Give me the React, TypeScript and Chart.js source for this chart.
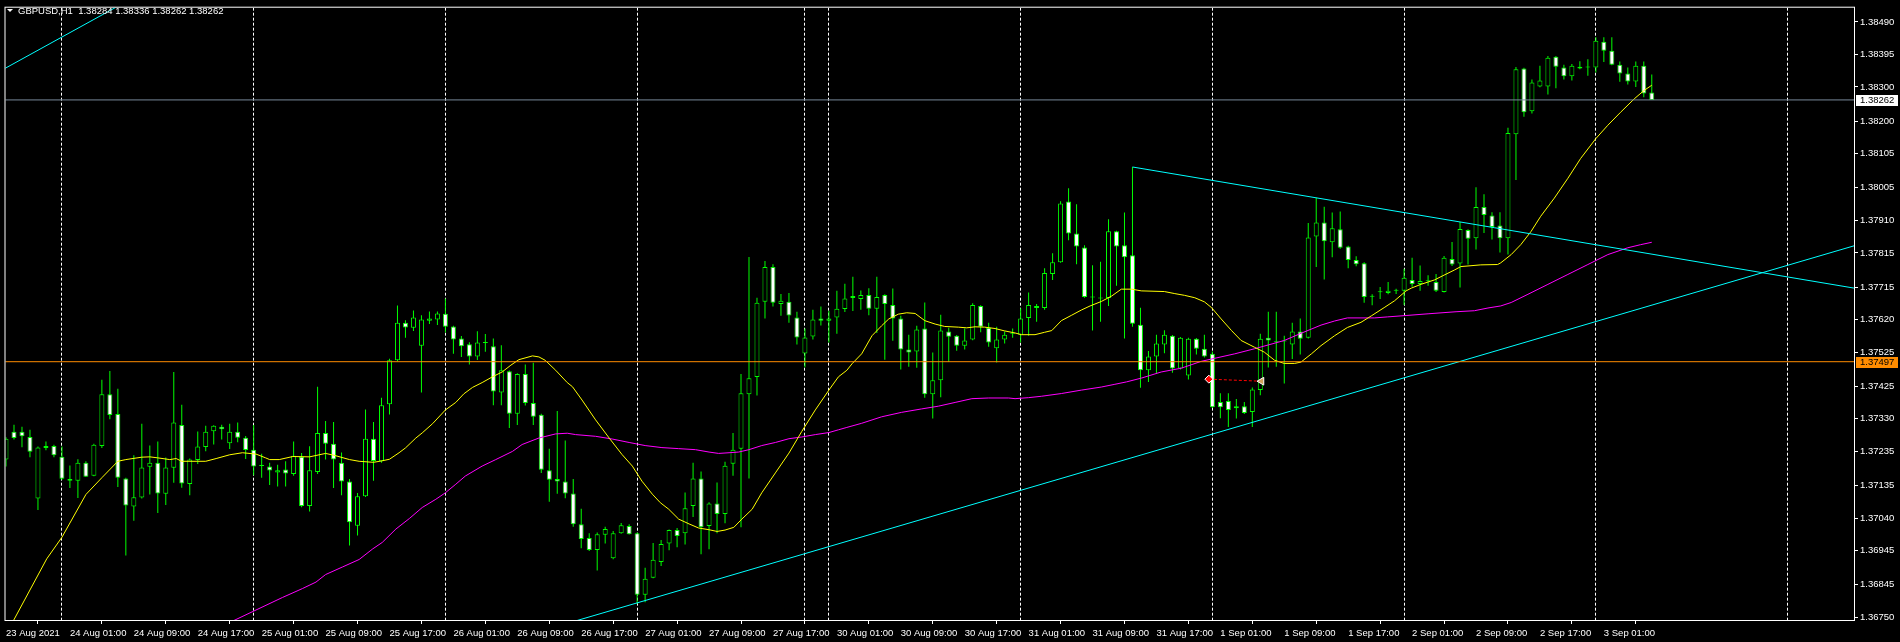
import { useEffect, useRef } from "react";
import { Chart, registerables } from "chart.js";

Chart.register(...registerables);

const symbolTitle = "GBPUSD,H1";

const opens = [
  1.37211,1.37292,1.37292,1.37277,1.37097,1.37251,1.37251,1.37219,1.37154,1.37149,
  1.37202,1.37164,1.37251,1.37402,1.37344,1.37156,1.37074,1.37100,1.37190,1.37202,
  1.37111,1.37187,1.37312,1.37140,1.37210,1.37248,1.37294,1.37307,1.37259,1.37292,
  1.37275,1.37240,1.37193,1.37191,1.37173,1.37182,1.37169,1.37219,1.37075,1.37175,
  1.37289,1.37257,1.37202,1.37147,1.37018,1.37104,1.37272,1.37206,1.37373,1.37501,
  1.37611,1.37596,1.37544,1.37617,1.37620,1.37637,1.37600,1.37565,1.37548,1.37512,
  1.37552,1.37542,1.37407,1.37469,1.37345,1.37461,1.37376,1.37342,1.37180,1.37154,
  1.37147,1.37112,1.37022,1.36982,1.36947,1.36991,1.36923,1.36996,1.37017,1.36996,
  1.36816,1.36866,1.36912,1.36966,1.37005,1.36996,1.37075,1.37156,1.37017,1.37083,
  1.37052,1.37199,1.37243,1.37402,1.37452,1.37672,1.37774,1.37666,1.37672,1.37626,
  1.37521,1.37571,1.37623,1.37617,1.37626,1.37651,1.37683,1.37680,1.37692,1.37652,
  1.37692,1.37663,1.37623,1.37533,1.37527,1.37594,1.37402,1.37443,1.37585,1.37573,
  1.37544,1.37562,1.37660,1.37596,1.37536,1.37562,1.37579,1.37576,1.37625,1.37654,
  1.37654,1.37753,1.37788,1.37965,1.37872,1.37831,1.37685,1.37682,1.37683,1.37878,
  1.37837,1.37808,1.37605,1.37472,1.37512,1.37547,1.37573,1.37477,1.37457,1.37564,
  1.37535,1.37520,1.37379,1.37382,1.37367,1.37367,1.37350,1.37414,1.37567,1.37554,
  1.37556,1.37547,1.37585,1.37567,1.37863,1.37904,1.37846,1.37884,1.37834,1.37794,
  1.37785,1.37687,1.37700,1.37698,1.37704,1.37704,1.37736,1.37724,1.37732,1.37730,
  1.37701,1.37797,1.37784,1.37882,1.37858,1.37949,1.37924,1.37895,1.37858,1.38162,
  1.38354,1.38229,1.38301,1.38301,1.38388,1.38357,1.38331,1.38359,1.38357,1.38357,
  1.38432,1.38406,1.38365,1.38339,1.38316,1.38362,1.38284,
];

const highs = [
  1.37276,1.37313,1.37307,1.37298,1.37249,1.37264,1.37254,1.37249,1.37194,1.37212,
  1.37206,1.37257,1.37444,1.37470,1.37418,1.37158,1.37224,1.37316,1.37252,1.37264,
  1.37217,1.37467,1.37371,1.37214,1.37293,1.37310,1.37311,1.37313,1.37316,1.37319,
  1.37280,1.37312,1.37228,1.37202,1.37196,1.37206,1.37264,1.37230,1.37250,1.37424,
  1.37324,1.37321,1.37232,1.37154,1.37113,1.37357,1.37321,1.37392,1.37506,1.37661,
  1.37618,1.37647,1.37633,1.37644,1.37644,1.37682,1.37602,1.37572,1.37554,1.37586,
  1.37578,1.37565,1.37545,1.37471,1.37463,1.37489,1.37494,1.37345,1.37243,1.37353,
  1.37267,1.37154,1.37067,1.36996,1.36998,1.37015,1.37002,1.37026,1.37022,1.36998,
  1.36895,1.36967,1.36976,1.37007,1.37011,1.37115,1.37202,1.37176,1.37086,1.37144,
  1.37205,1.37289,1.37461,1.37803,1.37684,1.37791,1.37782,1.37695,1.37698,1.37643,
  1.37594,1.37649,1.37658,1.37646,1.37704,1.37725,1.37745,1.37705,1.37712,1.37745,
  1.37694,1.37711,1.37631,1.37576,1.37602,1.37670,1.37524,1.37634,1.37596,1.37575,
  1.37594,1.37668,1.37662,1.37611,1.37599,1.37585,1.37594,1.37653,1.37699,1.37666,
  1.37770,1.37814,1.37966,1.38004,1.37957,1.37837,1.37779,1.37789,1.37913,1.37880,
  1.37933,1.38066,1.37655,1.37528,1.37576,1.37589,1.37575,1.37569,1.37567,1.37566,
  1.37576,1.37527,1.37405,1.37405,1.37388,1.37379,1.37422,1.37579,1.37643,1.37643,
  1.37573,1.37611,1.37623,1.37902,1.37976,1.37950,1.37933,1.37936,1.37836,1.37805,
  1.37788,1.37694,1.37715,1.37730,1.37710,1.37769,1.37801,1.37778,1.37750,1.37753,
  1.37806,1.37847,1.37905,1.37884,1.38007,1.37986,1.37934,1.37934,1.38181,1.38358,
  1.38356,1.38322,1.38362,1.38390,1.38390,1.38365,1.38367,1.38375,1.38381,1.38445,
  1.38445,1.38445,1.38374,1.38357,1.38374,1.38374,1.38336,
];

const lows = [
  1.37191,1.37270,1.37247,1.37218,1.37064,1.37238,1.37218,1.37152,1.37128,1.37099,
  1.37160,1.37162,1.37245,1.37329,1.37131,1.36931,1.37032,1.37097,1.37109,1.37055,
  1.37078,1.37143,1.37129,1.37107,1.37198,1.37235,1.37255,1.37270,1.37242,1.37262,
  1.37213,1.37165,1.37158,1.37137,1.37132,1.37132,1.37164,1.37072,1.37059,1.37169,
  1.37211,1.37128,1.37107,1.36960,1.36989,1.37102,1.37149,1.37202,1.37343,1.37498,
  1.37567,1.37587,1.37407,1.37607,1.37604,1.37582,1.37520,1.37511,1.37489,1.37502,
  1.37526,1.37370,1.37370,1.37303,1.37312,1.37369,1.37312,1.37172,1.37088,1.37111,
  1.37098,1.37015,1.36952,1.36944,1.36887,1.36966,1.36920,1.36994,1.36992,1.36790,
  1.36794,1.36864,1.36900,1.36946,1.36955,1.36963,1.37043,1.36934,1.36949,1.36996,
  1.37025,1.37164,1.37013,1.37156,1.37398,1.37623,1.37658,1.37631,1.37611,1.37547,
  1.37481,1.37562,1.37603,1.37553,1.37579,1.37642,1.37645,1.37649,1.37633,1.37581,
  1.37503,1.37558,1.37474,1.37482,1.37479,1.37392,1.37331,1.37393,1.37496,1.37529,
  1.37533,1.37560,1.37583,1.37541,1.37495,1.37550,1.37567,1.37553,1.37573,1.37614,
  1.37649,1.37736,1.37786,1.37852,1.37782,1.37684,1.37588,1.37614,1.37660,1.37719,
  1.37565,1.37599,1.37421,1.37438,1.37464,1.37522,1.37465,1.37474,1.37445,1.37518,
  1.37509,1.37362,1.37332,1.37306,1.37331,1.37344,1.37306,1.37399,1.37480,1.37482,
  1.37433,1.37505,1.37518,1.37565,1.37774,1.37737,1.37802,1.37827,1.37770,1.37776,
  1.37669,1.37662,1.37680,1.37694,1.37695,1.37663,1.37716,1.37704,1.37719,1.37701,
  1.37699,1.37777,1.37714,1.37781,1.37825,1.37873,1.37854,1.37816,1.37810,1.38028,
  1.38213,1.38222,1.38299,1.38278,1.38296,1.38322,1.38319,1.38352,1.38333,1.38342,
  1.38373,1.38363,1.38315,1.38307,1.38300,1.38270,1.38262,
];

const closes = [
  1.37272,1.37274,1.37279,1.37234,1.37246,1.37245,1.37224,1.37155,1.37149,1.37202,
  1.37161,1.37254,1.37402,1.37341,1.37158,1.37077,1.37101,1.37188,1.37202,1.37112,
  1.37188,1.37319,1.37141,1.37211,1.37249,1.37292,1.37310,1.37300,1.37292,1.37275,
  1.37239,1.37191,1.37192,1.37179,1.37180,1.37170,1.37222,1.37075,1.37180,1.37289,
  1.37257,1.37211,1.37147,1.37028,1.37104,1.37272,1.37207,1.37370,1.37501,1.37611,
  1.37597,1.37626,1.37620,1.37623,1.37638,1.37599,1.37562,1.37542,1.37512,1.37553,
  1.37552,1.37410,1.37472,1.37345,1.37461,1.37376,1.37336,1.37181,1.37152,1.37147,
  1.37112,1.37022,1.36979,1.36947,1.36993,1.37008,1.36996,1.37019,1.36993,1.36816,
  1.36863,1.36918,1.36964,1.37005,1.36988,1.37069,1.37156,1.37013,1.37083,1.37052,
  1.37193,1.37240,1.37405,1.37449,1.37669,1.37774,1.37669,1.37675,1.37632,1.37568,
  1.37568,1.37620,1.37617,1.37623,1.37652,1.37682,1.37689,1.37692,1.37652,1.37686,
  1.37666,1.37623,1.37533,1.37524,1.37591,1.37402,1.37443,1.37588,1.37570,1.37544,
  1.37559,1.37663,1.37599,1.37553,1.37562,1.37576,1.37579,1.37623,1.37663,1.37660,
  1.37756,1.37788,1.37959,1.37872,1.37834,1.37686,1.37685,1.37682,1.37878,1.37834,
  1.37802,1.37608,1.37472,1.37512,1.37550,1.37576,1.37477,1.37567,1.37564,1.37535,
  1.37512,1.37364,1.37364,1.37356,1.37361,1.37347,1.37416,1.37564,1.37559,1.37555,
  1.37556,1.37585,1.37564,1.37860,1.37904,1.37849,1.37887,1.37830,1.37794,1.37782,
  1.37686,1.37688,1.37701,1.37704,1.37704,1.37742,1.37724,1.37733,1.37733,1.37704,
  1.37801,1.37781,1.37885,1.37856,1.37949,1.37926,1.37891,1.37858,1.38165,1.38352,
  1.38226,1.38313,1.38319,1.38385,1.38359,1.38331,1.38362,1.38354,1.38357,1.38435,
  1.38406,1.38365,1.38339,1.38316,1.38362,1.38281,1.38262,
];

const xTickBars = [0,8,16,24,32,40,48,56,64,72,80,88,96,104,112,120,128,136,144,152,160,168,176,184,192,200];
const xTickLabels = [
  "23 Aug 2021","24 Aug 01:00","24 Aug 09:00","24 Aug 17:00","25 Aug 01:00","25 Aug 09:00",
  "25 Aug 17:00","26 Aug 01:00","26 Aug 09:00","26 Aug 17:00","27 Aug 01:00","27 Aug 09:00",
  "27 Aug 17:00","30 Aug 01:00","30 Aug 09:00","30 Aug 17:00","31 Aug 01:00","31 Aug 09:00",
  "31 Aug 17:00","1 Sep 01:00","1 Sep 09:00","1 Sep 17:00","2 Sep 01:00","2 Sep 09:00",
  "2 Sep 17:00","3 Sep 01:00",
];
const yTickValues = [
  1.3849,1.38395,1.383,1.382,1.38105,1.38005,1.3791,1.37815,1.37715,1.3762,
  1.37525,1.37425,1.3733,1.37235,1.37135,1.3704,1.36945,1.36845,1.3675,
];
const gridBars = [7,31,55,79,100,103,127,151,175,199,223];

const maFastBars = [
  0,5.1,7,10,12,14,15,17,18,19,20.5,21.3,22,24,25,26.3,28,29.6,31.3,32.5,33,34.2,35.9,38,40,41,43,44.2,46,47,48,
  49.2,50,51.3,52.1,53.4,55,56.3,57.3,58.4,59.6,60.9,62.1,63.2,64.2,65.9,66.7,67.5,68.8,70.25,70.9,72.1,73.8,75.5,
  77.1,78.4,79.6,80.9,81.9,82.95,84.2,85.5,86.7,88,89,90,91.1,92.1,93.4,94.6,96.3,98,99.6,101.3,103,104.2,105.25,
  105.9,107.1,108.4,109.6,110.5,111.7,112.75,113.8,115,116.3,117.5,119.2,120.25,121.3,122.5,123.8,125,126.3,127.1,
  128.8,130,130.9,132.1,133.4,134.6,135.7,137.1,138.4,139.6,140.9,142.1,145,146.3,147.5,148.8,150,150.9,152.1,153.4,
  154.6,156.3,157.5,158.8,160,161.3,162.1,163.4,164.6,166.3,167.9,169.6,170.9,172.5,173.8,175.25,175.9,177.1,178.8,
  180,181.3,182.1,184.6,186.7,187.1,188.4,189.6,190.9,192.1,193.8,195.5,197.1,199,200.5,202.1,203.8,205,206,
];
const maFastValues = [
  1.367,1.36921,1.36984,1.37109,1.37158,1.37206,1.37211,1.37218,1.37219,1.37216,1.37211,1.37214,1.37206,1.37206,
  1.37206,1.37214,1.37225,1.37231,1.37227,1.37216,1.37211,1.37211,1.3722,1.37219,1.37229,1.37224,1.37211,1.37206,
  1.37203,1.37207,1.37212,1.37231,1.37245,1.37274,1.37289,1.37316,1.37356,1.37378,1.37403,1.37422,1.37436,1.37453,
  1.37467,1.37487,1.37503,1.37514,1.37511,1.37501,1.37472,1.37436,1.37424,1.37385,1.37327,1.37274,1.37226,1.37192,
  1.37148,1.3711,1.37085,1.37066,1.37037,1.37023,1.37011,1.37006,1.37001,1.37005,1.37013,1.37037,1.37066,1.37114,
  1.37172,1.3723,1.37293,1.37356,1.37414,1.37453,1.37472,1.37491,1.3752,1.37573,1.37602,1.37622,1.37636,1.3764,
  1.37638,1.37617,1.37607,1.376,1.37598,1.37596,1.37599,1.37598,1.37594,1.37587,1.37581,1.37576,1.37576,1.37583,
  1.37588,1.37617,1.37633,1.37648,1.3766,1.37673,1.37689,1.37709,1.37709,1.37704,1.37702,1.37696,1.37691,1.37684,
  1.37672,1.37655,1.37622,1.37588,1.37559,1.37539,1.37525,1.37501,1.37492,1.37492,1.37496,1.3752,1.37544,1.37573,
  1.37597,1.37612,1.37631,1.37655,1.37675,1.37704,1.37712,1.37723,1.37736,1.3775,1.37765,1.37775,1.3778,1.37781,
  1.37786,1.3781,1.37839,1.37878,1.37922,1.37975,1.38033,1.38091,1.38149,1.38188,1.38226,1.38265,1.38289,1.38305,
];

const maSlowBars = [
  28,34.6,37.1,38.8,40,42.1,44.2,45.9,47.1,48.8,50.5,52.1,53.8,55,56.3,57.5,59.6,61.3,63.4,64.6,66.7,68.8,70.25,
  71.3,73.8,75.9,78,80,82.1,84.2,86.3,88,89.2,90.5,91.7,93,94.6,96.3,98,99.6,101.3,103,104.2,105.25,107.1,109.6,
  112.1,114.6,116.7,118.8,120.9,123,125.5,126.3,128,129.6,132.1,134.6,137.1,138.8,140.25,142.1,144.6,147.1,149.6,
  151.3,153.8,156.3,158,160,162.1,164.6,166.3,167.9,171.3,172.95,175.25,178,181.5,183.8,185.5,187.1,188.4,190.5,
  193,195.5,198,200.5,203,204.6,206,
];
const maSlowValues = [
  1.36735,1.36808,1.36834,1.36853,1.36875,1.36897,1.36919,1.3695,1.36969,1.37008,1.37039,1.37071,1.37095,1.37114,
  1.37139,1.37163,1.37192,1.37211,1.37235,1.37255,1.37274,1.37286,1.37288,1.37284,1.37279,1.37271,1.37261,1.37252,
  1.37246,1.37243,1.3724,1.37233,1.37229,1.37231,1.37233,1.3724,1.37252,1.37261,1.37272,1.37277,1.37284,1.3729,
  1.37298,1.37305,1.37317,1.37336,1.37349,1.37359,1.37367,1.37378,1.37389,1.37391,1.37391,1.37389,1.37392,1.37396,
  1.37404,1.37414,1.37423,1.37431,1.37438,1.37449,1.37467,1.37478,1.37498,1.37507,1.3752,1.37535,1.37546,1.37559,
  1.3758,1.37604,1.37616,1.37625,1.37625,1.37628,1.37632,1.37637,1.37643,1.37646,1.37654,1.3766,1.3767,1.37694,
  1.37723,1.37752,1.37781,1.3781,1.3783,1.37839,1.37846,
];

const trendUpBars = [60, 235];
const trendUpPrices = [1.366621, 1.378609];
const trendDownBars = [141, 235];
const trendDownPrices = [1.38066, 1.376977];
const trendOldBars = [-2, 20];
const trendOldPrices = [1.3833, 1.38613];

const hLinePrice = 1.37497;
const tradeBars = [150.56, 157.15];
const tradePrices = [1.37446, 1.3744];

const X_MIN = -0.0625;
const X_MAX = 231.4375;
const Y_MIN = 1.367393;
const Y_MAX = 1.385315;

const FONT = "'Liberation Sans', Arial, sans-serif";
const LIME = "#00ff00";

const fmt = (v: number) => v.toFixed(5);

const decorPlugin = {
  id: "mt4decor",
  beforeDatasetsDraw(chart: any) {
    const { ctx, chartArea: a, scales } = chart;
    const xs = scales.x;
    ctx.save();
    ctx.beginPath();
    ctx.rect(a.left, a.top, a.right - a.left, a.bottom - a.top);
    ctx.clip();
    ctx.strokeStyle = "#ffffff";
    ctx.lineWidth = 1;
    ctx.setLineDash([3, 2]);
    for (const b of gridBars) {
      const px = Math.floor(xs.getPixelForValue(b)) + 0.5;
      ctx.beginPath();
      ctx.moveTo(px, a.top);
      ctx.lineTo(px, a.bottom);
      ctx.stroke();
    }
    ctx.restore();
  },
  afterDraw(chart: any) {
    const { ctx, chartArea: a, scales } = chart;
    const ys = scales.y;
    ctx.save();
    ctx.strokeStyle = "#ffffff";
    ctx.lineWidth = 1;
    ctx.setLineDash([]);
    ctx.strokeRect(a.left - 0.5, a.top - 0.5, a.right - a.left, a.bottom - a.top);

    // title
    ctx.fillStyle = "#ffffff";
    ctx.beginPath();
    ctx.moveTo(7, 9);
    ctx.lineTo(13, 9);
    ctx.lineTo(10, 12);
    ctx.closePath();
    ctx.fill();
    const last = closes.length - 1;
    const title = `${symbolTitle}  ${fmt(opens[last])} ${fmt(highs[last])} ${fmt(lows[last])} ${fmt(closes[last])}`;
    ctx.font = `9.5px ${FONT}`;
    ctx.textAlign = "left";
    ctx.textBaseline = "alphabetic";
    ctx.fillText(title, 18, 13.5);

    const box = (price: number, bg: string, fg: string) => {
      const py = Math.round(ys.getPixelForValue(price));
      ctx.fillStyle = bg;
      ctx.fillRect(a.right + 1, py - 5, 42, 11);
      ctx.fillStyle = fg;
      ctx.textBaseline = "middle";
      ctx.fillText(fmt(price), a.right + 5, py + 0.5);
    };
    box(hLinePrice, "#ff8c00", "#000000");
    box(closes[last], "#ffffff", "#000000");
    ctx.restore();
  },
};

export default function App() {
  const ref = useRef<HTMLCanvasElement | null>(null);

  useEffect(() => {
    if (!ref.current) return;
    const bodyColors = opens.map((o, i) => {
      const d = closes[i] - o;
      if (Math.abs(d) < 0.000015) return LIME;
      return d > 0 ? "#000000" : "#ffffff";
    });
    const wicks = opens.map((_, i) => ({ x: i, y: [lows[i], highs[i]] }));
    const bodies = opens.map((o, i) => ({ x: i, y: [o, closes[i]] }));
    const pts = (xs: number[], ys: number[]) => xs.map((x, k) => ({ x, y: ys[k] }));
    const lineDs = (data: any[], color: string, order: number, extra: any = {}) => ({
      type: "line",
      data,
      borderColor: color,
      borderWidth: 1,
      pointRadius: 0,
      tension: 0,
      fill: false,
      clip: 0,
      order,
      ...extra,
    });

    const chart = new Chart(ref.current, {
      type: "bar",
      data: {
        datasets: [
          {
            type: "bar",
            data: wicks as any,
            backgroundColor: LIME,
            borderWidth: 0,
            barThickness: 1,
            grouped: false,
            inflateAmount: 0,
            clip: 0,
            order: 10,
          } as any,
          {
            type: "bar",
            data: bodies as any,
            backgroundColor: bodyColors,
            borderColor: LIME,
            borderWidth: 1,
            borderSkipped: false,
            barThickness: 5,
            minBarLength: 1,
            grouped: false,
            inflateAmount: 0,
            clip: 0,
            order: 9,
          } as any,
          lineDs(pts(maSlowBars, maSlowValues), "#ff00ff", 6),
          lineDs(pts(maFastBars, maFastValues), "#ffff00", 5),
          lineDs(pts(trendUpBars, trendUpPrices), "#00ffff", 4),
          lineDs(pts(trendDownBars, trendDownPrices), "#00ffff", 4),
          lineDs(pts(trendOldBars, trendOldPrices), "#00ffff", 4),
          lineDs(pts([X_MIN - 1, X_MAX + 1], [hLinePrice, hLinePrice]), "#ff8c00", 3),
          lineDs(pts([X_MIN - 1, X_MAX + 1], [closes[closes.length - 1], closes[closes.length - 1]]), "#778899", 3),
          lineDs(pts(tradeBars, tradePrices), "#ff0000", 1, {
            borderDash: [3, 2],
            pointRadius: [4, 4.5],
            pointStyle: ["rectRot", "triangle"],
            pointRotation: [0, -90],
            pointBackgroundColor: ["#ff0000", "#d2a05a"],
            pointBorderColor: ["#ffffff", "#ffffff"],
            pointBorderWidth: 1,
          }),
        ] as any,
      },
      options: {
        responsive: false,
        animation: false,
        events: [],
        layout: { padding: { left: 3, top: 3, right: 0, bottom: 0 } },
        plugins: {
          legend: { display: false },
          tooltip: { enabled: false },
          title: { display: false },
        },
        scales: {
          x: {
            type: "linear",
            min: X_MIN,
            max: X_MAX,
            offset: false,
            afterBuildTicks: (s: any) => {
              s.ticks = xTickBars.map((v) => ({ value: v }));
            },
            afterFit: (s: any) => {
              s.height = 21;
            },
            ticks: {
              autoSkip: false,
              maxRotation: 0,
              minRotation: 0,
              align: "start",
              color: "#ffffff",
              padding: 4,
              font: { family: FONT, size: 9.5 },
              callback: (_v: any, i: number) => xTickLabels[i] ?? "",
            },
            grid: {
              drawOnChartArea: false,
              drawTicks: true,
              tickLength: 3,
              color: "#ffffff",
              tickColor: "#ffffff",
            },
            border: { display: false },
          },
          y: {
            type: "linear",
            position: "right",
            min: Y_MIN,
            max: Y_MAX,
            afterBuildTicks: (s: any) => {
              s.ticks = yTickValues.map((v) => ({ value: v }));
            },
            afterFit: (s: any) => {
              s.width = 45;
            },
            ticks: {
              autoSkip: false,
              color: "#ffffff",
              padding: 2,
              font: { family: FONT, size: 9.5 },
              callback: (v: any) => Number(v).toFixed(5),
            },
            grid: {
              drawOnChartArea: false,
              drawTicks: true,
              tickLength: 3,
              color: "#ffffff",
              tickColor: "#ffffff",
            },
            border: { display: false },
          },
        },
      } as any,
      plugins: [decorPlugin],
    });
    return () => chart.destroy();
  }, []);

  return (
    <div
      style={{
        position: "fixed",
        left: 0,
        top: 0,
        width: 1900,
        height: 642,
        background: "#000000",
      }}
    >
      <canvas ref={ref} width={1900} height={642} style={{ width: 1900, height: 642, display: "block" }} />
    </div>
  );
}
